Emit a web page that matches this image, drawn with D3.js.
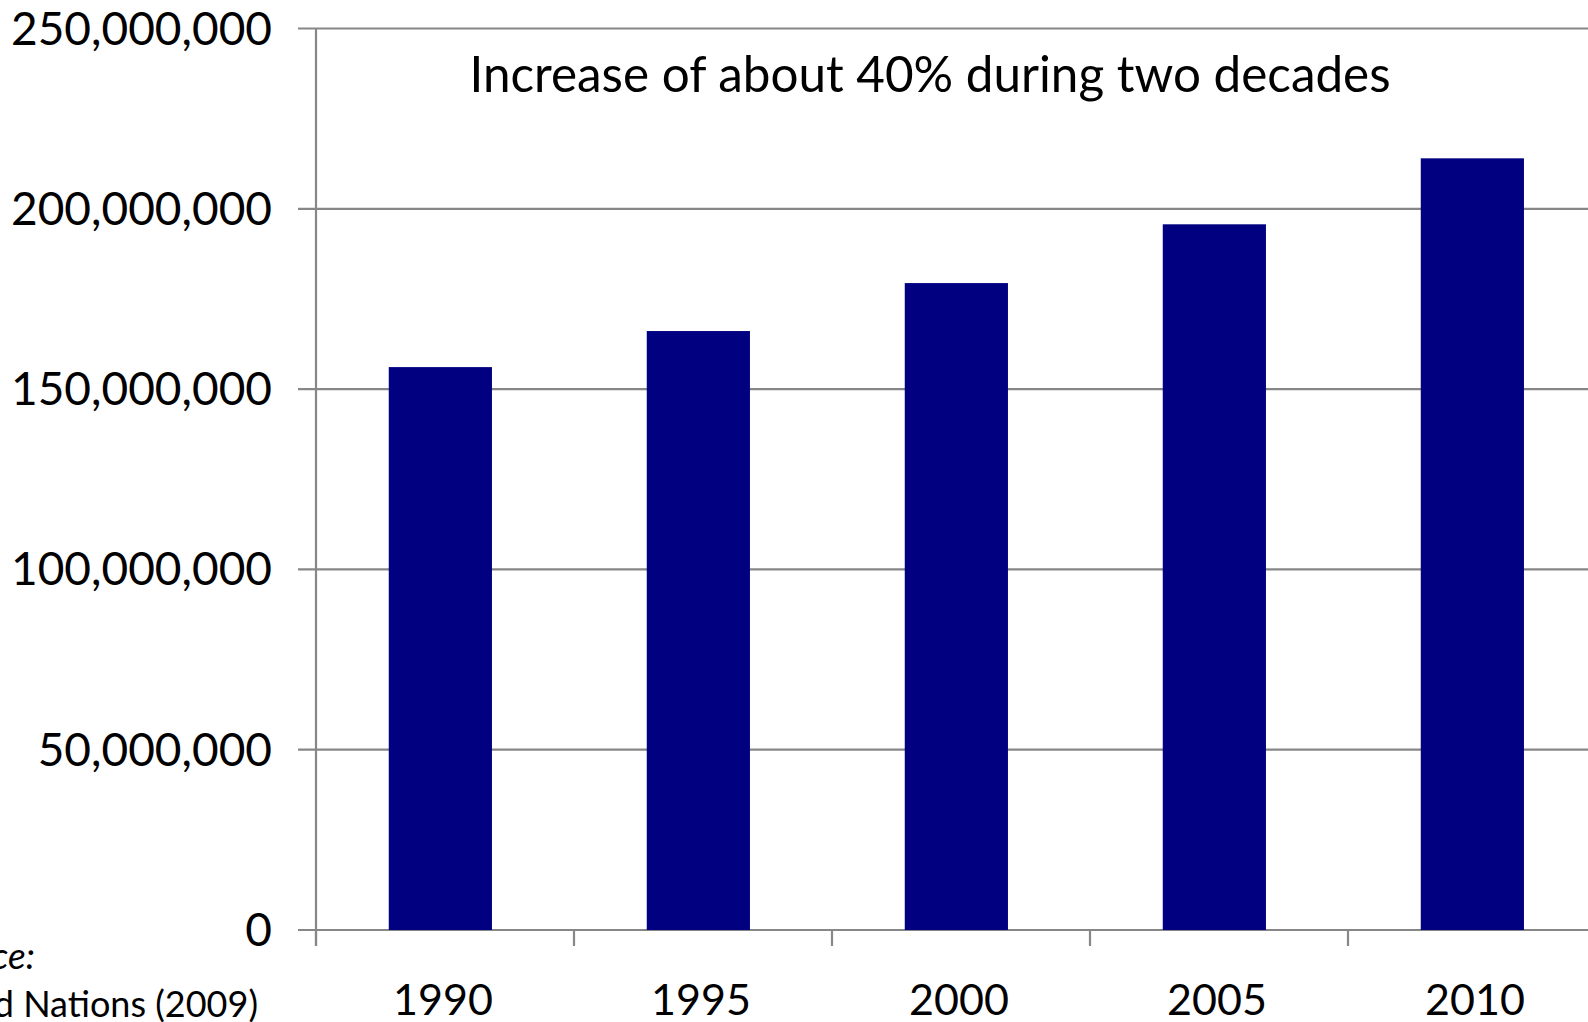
<!DOCTYPE html>
<html>
<head>
<meta charset="utf-8">
<script src="https://cdn.jsdelivr.net/npm/d3@7"></script>
<style>
  body { margin: 0; background: #fff; }
  svg { display: block; }
  text { font-family: Lato, "Open Sans", sans-serif; fill: #000; }
</style>
</head>
<body>
<div id="chart"></div>
<script>
// population per year
const years = ['1990', '1995', '2000', '2005', '2010'];
const values = [156100000, 166100000, 179400000, 195700000, 214000000];
const yTicks = [0, 50000000, 100000000, 150000000, 200000000, 250000000];
const title = 'Increase of about 40% during two decades';
const sourceLines = ['Source:', 'United Nations (2009)'];

const chartWidth = 1588;
const chartHeight = 1022;
const plotLeft = 316;
const plotBottom = 930;
const plotTop = 28.5;
const step = 258;
const gridColor = '#878787';

const svg = d3.select('#chart').append('svg')
  .attr('width', chartWidth)
  .attr('height', chartHeight);

// category slots (ticks sit on their edges) and bars inside them
const xSlot = d3.scaleBand()
  .domain(years)
  .range([plotLeft, plotLeft + step * years.length]);

const x = d3.scaleBand()
  .domain(years)
  .range(xSlot.range())
  .paddingInner(0.6)
  .paddingOuter(0.3)
  .align(0.47);

const y = d3.scaleLinear()
  .domain([0, 250000000])
  .range([plotBottom, plotTop]);

// gridlines + y ticks
svg.append('g')
  .selectAll('line')
  .data(yTicks)
  .enter().append('line')
  .attr('x1', plotLeft - 18)
  .attr('x2', chartWidth)
  .attr('y1', d => y(d))
  .attr('y2', d => y(d))
  .attr('stroke', gridColor)
  .attr('stroke-width', 2.2);

// y tick labels
svg.append('g')
  .selectAll('text')
  .data(yTicks)
  .enter().append('text')
  .attr('x', 272)
  .attr('y', d => y(d) + 16)
  .attr('text-anchor', 'end')
  .style('font-size', '46px')
  .text(d => d3.format(',')(d));

// bars
svg.append('g')
  .selectAll('rect')
  .data(years)
  .enter().append('rect')
  .attr('x', d => x(d))
  .attr('width', x.bandwidth())
  .attr('y', (d, i) => y(values[i]))
  .attr('height', (d, i) => y(0) - y(values[i]))
  .attr('fill', '#000080');

// x axis ticks at category boundaries
const xTickPos = years.map(d => xSlot(d)).concat([xSlot.range()[1]]);
svg.append('g')
  .selectAll('line')
  .data(xTickPos)
  .enter().append('line')
  .attr('x1', d => d)
  .attr('x2', d => d)
  .attr('y1', plotBottom)
  .attr('y2', plotBottom + 16)
  .attr('stroke', gridColor)
  .attr('stroke-width', 2.2);

// y axis line
svg.append('line')
  .attr('x1', plotLeft)
  .attr('x2', plotLeft)
  .attr('y1', plotTop)
  .attr('y2', plotBottom + 16)
  .attr('stroke', gridColor)
  .attr('stroke-width', 2.2);

// year labels
svg.append('g')
  .selectAll('text')
  .data(years)
  .enter().append('text')
  .attr('x', d => xSlot(d) + xSlot.bandwidth() / 2 - 2)
  .attr('y', 1015)
  .attr('text-anchor', 'middle')
  .style('font-size', '43px')
  .text(d => d);

// title
svg.append('text')
  .attr('x', 930)
  .attr('y', 91.5)
  .attr('text-anchor', 'middle')
  .style('font-size', '49.4px')
  .text(title);

// source note, partly cut off at the left edge
svg.append('text')
  .attr('x', 35)
  .attr('y', 969)
  .attr('text-anchor', 'end')
  .style('font-size', '37px')
  .style('font-style', 'italic')
  .text(sourceLines[0]);

svg.append('text')
  .attr('x', 258)
  .attr('y', 1016.5)
  .attr('text-anchor', 'end')
  .style('font-size', '36px')
  .text(sourceLines[1]);
</script>
</body>
</html>
